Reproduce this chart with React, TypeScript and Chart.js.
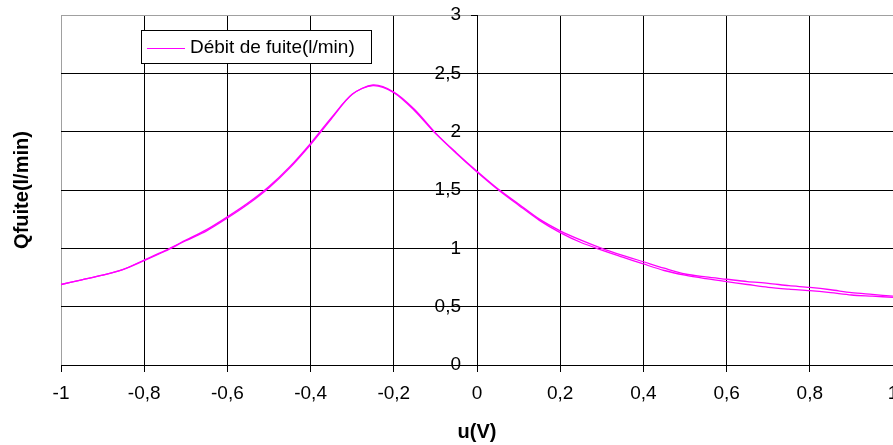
import React, { useEffect, useRef } from "react";
import { Chart, registerables } from "chart.js";

Chart.register(...registerables);

// Forward sweep (u from -1 to 1)
const uForward = [-1, -0.95, -0.9, -0.85, -0.8, -0.75, -0.7, -0.65, -0.6, -0.55, -0.5, -0.45, -0.4, -0.35, -0.3, -0.25, -0.2, -0.15, -0.1, -0.05, 0, 0.05, 0.1, 0.15, 0.2, 0.25, 0.3, 0.35, 0.4, 0.45, 0.5, 0.55, 0.6, 0.65, 0.7, 0.75, 0.8, 0.85, 0.9, 0.95, 1];
const qForward = [0.69, 0.73, 0.77, 0.82, 0.9, 0.98, 1.07, 1.16, 1.27, 1.39, 1.53, 1.7, 1.9, 2.12, 2.32, 2.4, 2.34, 2.19, 1.99, 1.82, 1.66, 1.51, 1.38, 1.25, 1.15, 1.07, 1.0, 0.94, 0.885, 0.83, 0.78, 0.755, 0.735, 0.715, 0.7, 0.68, 0.665, 0.645, 0.62, 0.605, 0.59];

// Return sweep (u from 1 back to -1)
const uReturn = [1, 0.95, 0.9, 0.85, 0.8, 0.75, 0.7, 0.65, 0.6, 0.55, 0.5, 0.45, 0.4, 0.35, 0.3, 0.25, 0.2, 0.15, 0.1, 0.05, 0, -0.05, -0.1, -0.15, -0.2, -0.25, -0.3, -0.35, -0.4, -0.45, -0.5, -0.55, -0.6, -0.65, -0.7, -0.75, -0.8, -0.85, -0.9, -0.95, -1];
const qReturn = [0.58, 0.59, 0.6, 0.62, 0.637, 0.65, 0.666, 0.69, 0.714, 0.74, 0.77, 0.81, 0.866, 0.925, 0.985, 1.05, 1.135, 1.24, 1.37, 1.505, 1.655, 1.815, 1.985, 2.18, 2.335, 2.395, 2.32, 2.11, 1.89, 1.69, 1.52, 1.38, 1.26, 1.15, 1.065, 0.975, 0.895, 0.82, 0.77, 0.73, 0.69];

const xTickLabels = ["-1", "-0,8", "-0,6", "-0,4", "-0,2", "0", "0,2", "0,4", "0,6", "0,8", "1"];
const yTickLabels = ["0", "0,5", "1", "1,5", "2", "2,5", "3"];

const seriesLabel = "Débit de fuite(l/min)";
const xTitle = "u(V)";
const yTitle = "Qfuite(l/min)";

const FONT = '"Liberation Sans", Arial, sans-serif';
const MAGENTA = "#ff00ff";

const decorPlugin = {
  id: "decor",
  afterDraw(chart: any) {
    const ctx = chart.ctx;
    ctx.save();
    // Legend box
    ctx.fillStyle = "#ffffff";
    ctx.fillRect(141, 30, 231, 33);
    ctx.strokeStyle = "#000000";
    ctx.lineWidth = 1;
    ctx.strokeRect(141.5, 30.5, 230, 33);
    ctx.strokeStyle = MAGENTA;
    ctx.beginPath();
    ctx.moveTo(147, 48.5);
    ctx.lineTo(185, 48.5);
    ctx.stroke();
    ctx.fillStyle = "#000000";
    ctx.font = `19px ${FONT}`;
    ctx.textAlign = "left";
    ctx.textBaseline = "middle";
    ctx.fillText(seriesLabel, 190, 48);
    // Y title
    ctx.translate(22, 190);
    ctx.rotate(-Math.PI / 2);
    ctx.font = `bold 20px ${FONT}`;
    ctx.textAlign = "center";
    ctx.textBaseline = "middle";
    ctx.fillText(yTitle, 0, 0);
    ctx.restore();
  },
};

export default function App() {
  const canvasRef = useRef<HTMLCanvasElement | null>(null);

  useEffect(() => {
    if (!canvasRef.current) return;
    const chart = new Chart(canvasRef.current, {
      type: "line",
      data: {
        datasets: [
          {
            label: seriesLabel,
            data: uForward.map((u, i) => ({ x: u, y: qForward[i] })),
            borderColor: MAGENTA,
            backgroundColor: MAGENTA,
            borderWidth: 1.3,
            pointRadius: 0,
            tension: 0.3,
            fill: false,
          },
          {
            label: seriesLabel,
            data: uReturn.map((u, i) => ({ x: u, y: qReturn[i] })),
            borderColor: MAGENTA,
            backgroundColor: MAGENTA,
            borderWidth: 1.3,
            pointRadius: 0,
            tension: 0.3,
            fill: false,
          },
        ],
      },
      options: {
        animation: false,
        responsive: false,
        maintainAspectRatio: false,
        layout: { padding: { left: 61, top: 15, right: 0, bottom: 0 } },
        plugins: {
          legend: { display: false },
          tooltip: { enabled: false },
        },
        scales: {
          x: {
            type: "linear",
            position: "bottom",
            min: -1,
            max: 1,
            ticks: {
              stepSize: 0.2,
              color: "#000",
              font: { family: FONT, size: 19 },
              padding: 10,
              maxRotation: 0,
              autoSkip: false,
              callback: (_v: any, i: number) => xTickLabels[i],
            },
            grid: {
              color: (c: any) => (c.index === 0 ? "#a0a0a0" : "#000000"),
              tickColor: "#000000",
              tickLength: 7,
              lineWidth: 1,
            },
            border: { color: "#000000", width: 1 },
            title: {
              display: true,
              text: xTitle,
              color: "#000",
              font: { family: FONT, size: 20, weight: "bold" },
              padding: { top: 0, bottom: 1 },
            },
            afterFit: (scale: any) => {
              scale.height = 80;
              scale.paddingLeft = 0;
              scale.paddingRight = 0;
            },
          },
          y: {
            type: "linear",
            position: "center",
            min: 0,
            max: 3,
            ticks: {
              stepSize: 0.5,
              color: "#000",
              font: { family: FONT, size: 19 },
              padding: 10,
              callback: (_v: any, i: number) => yTickLabels[i],
            },
            grid: {
              color: (c: any) => (c.index === 6 ? "#a0a0a0" : "#000000"),
              tickColor: "#000000",
              tickLength: 6,
              lineWidth: 1,
            },
            border: { color: "#000000", width: 1 },
            afterFit: (scale: any) => {
              scale.paddingTop = 0;
              scale.paddingBottom = 0;
            },
          },
        },
      } as any,
      plugins: [decorPlugin],
    });
    return () => chart.destroy();
  }, []);

  return (
    <div style={{ position: "absolute", left: 0, top: 0, width: 893, height: 445, background: "#fff" }}>
      <canvas ref={canvasRef} width={893} height={445} style={{ display: "block" }} />
    </div>
  );
}
